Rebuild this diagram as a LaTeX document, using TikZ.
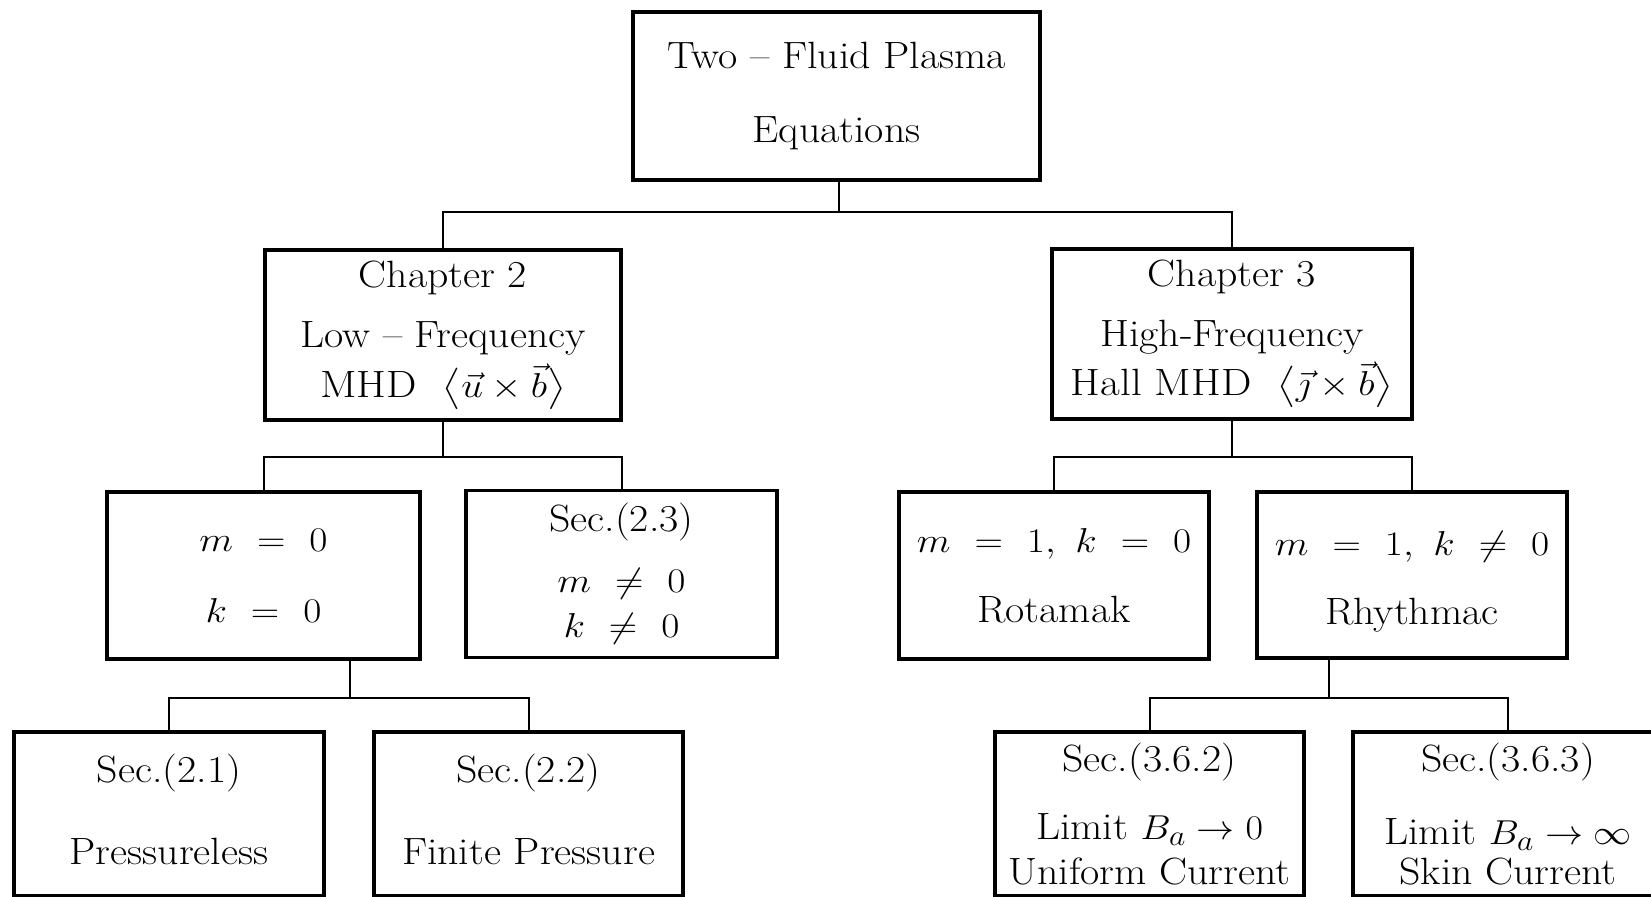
\documentclass[tikz,border=0pt]{standalone}
\usepackage{amsmath}
\usepackage{graphicx}
% widened lines: text and formulas are set a little extended
\newcommand\ws[1]{\scalebox{1.1}[1]{#1}}
\newcommand\wm[1]{\scalebox{1.14}[1]{#1}}
\begin{document}
\begin{tikzpicture}[x=0.5pt,y=-0.5pt,
  box/.style={draw, line width=1.8pt, inner sep=0pt, align=center,
              font=\fontsize{19}{23}\selectfont},
  txt/.style={inner sep=0pt, align=center, font=\fontsize{19}{23}\selectfont},
  link/.style={line width=1pt}]
\path[use as bounding box, clip] (0,0) rectangle (1651,896);
\fill[white] (0,0) rectangle (1651,896);

% level 0
\node[box, minimum width=203.5pt, minimum height=84pt] (top) at (836.5,96)
  {\ws{Two -- Fluid Plasma}\\[14pt]\ws{Equations}};

% level 1
\node[box, minimum width=178pt, minimum height=85pt] (ch2) at (443,335)
  {\ws{Chapter 2}\\[7pt]\ws{Low -- Frequency}\\[2pt]%
   \scalebox{1.13}[1]{MHD\ \ $\bigl\langle\vec{u}\times\vec{b}\bigr\rangle$}};
\node[box, minimum width=180pt, minimum height=85pt] (ch3) at (1232,334)
  {\ws{Chapter 3}\\[7pt]\ws{High-Frequency}\\[1.5pt]%
   \scalebox{1.13}[1]{Hall MHD\ \ $\bigl\langle\vec{\jmath}\times\vec{b}\bigr\rangle$}};

% level 2
\node[box, minimum width=156.5pt, minimum height=83.5pt] (m0) at (263.5,575.5)
  {\wm{$m\ =\ 0$}\\[12.5pt]\wm{$k\ =\ 0$}};
\node[box, minimum width=155.5pt, minimum height=83.5pt] (s23) at (621.5,574)
  {\ws{Sec.(2.3)}\\[7.5pt]\wm{$m\ \neq\ 0$}\\[-0.5pt]\wm{$k\ \neq\ 0$}};
\node[box, minimum width=155pt, minimum height=83.5pt] (rot) at (1054,575.5)
  {\wm{$m\ =\ 1,\ k\ =\ 0$}\\[12pt]\ws{Rotamak}};
\node[box, minimum width=155pt, minimum height=83pt] (rhy) at (1412,575)
  {\rule{0pt}{18.5pt}\wm{$m\ =\ 1,\ k\ \neq\ 0$}\\[11.5pt]\ws{Rhythmac}};

% level 3 (boxes run past the lower edge)
\node[box, minimum width=155pt, minimum height=82pt] (s21) at (169,814) {};
\node[box, minimum width=154.5pt, minimum height=82pt] (s22) at (528.5,814) {};
\node[box, minimum width=154.5pt, minimum height=82pt] (s362) at (1149.5,814) {};
\node[box, minimum width=155pt, minimum height=82pt] (s363) at (1508,814) {};

\node[txt, anchor=north] (s21t) at (169,754)
  {\ws{Sec.(2.1)}\\[18pt]\ws{Pressureless}};
\node[txt, anchor=north] (s22t) at (528.5,754)
  {\ws{Sec.(2.2)}\\[18pt]\ws{Finite Pressure}};
\node[txt, anchor=north] (s362t) at (1149.5,743)
  {\ws{Sec.(3.6.2)}\\[11pt]\ws{Limit $B_a\to 0$}\\[-0.5pt]\ws{Uniform Current}};
\node[txt, anchor=north] (s363t) at (1508,743)
  {\ws{Sec.(3.6.3)}\\[13.5pt]\ws{Limit $B_a\to\infty$}\\[-3pt]\ws{Skin Current}};

% junction points of the tree connectors
\coordinate (jtop) at (839,212);
\coordinate (jch2) at (443,457);
\coordinate (jch3) at (1232,457);
\coordinate (jm0)  at (350,698);
\coordinate (jrhy) at (1329,698);

\draw[link] (top.south -| jtop) -- (jtop);
\draw[link] (ch2.north) |- (jtop) -| (ch3.north);

\draw[link] (ch2.south) -- (jch2);
\draw[link] (m0.north) |- (jch2) -| (s23.north);

\draw[link] (ch3.south) -- (jch3);
\draw[link] (rot.north) |- (jch3) -| (rhy.north);

\draw[link] (m0.south -| jm0) -- (jm0);
\draw[link] (s21.north) |- (jm0) -| (s22.north);

\draw[link] (rhy.south -| jrhy) -- (jrhy);
\draw[link] (s362.north) |- (jrhy) -| (s363.north);
\end{tikzpicture}
\end{document}
